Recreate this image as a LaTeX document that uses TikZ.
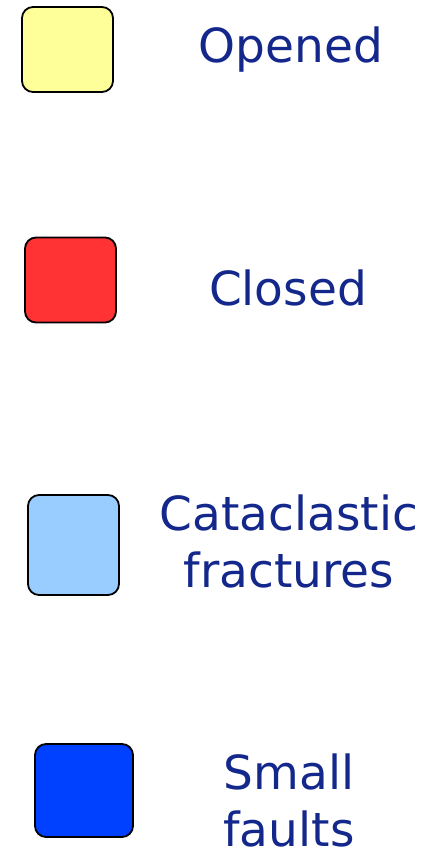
\documentclass[tikz,border=0pt]{standalone}
\usepackage{fontspec}
\setmainfont{DejaVu Sans}
\usetikzlibrary{positioning}
\definecolor{ink}       {HTML}{14288C}
\definecolor{openedYel} {HTML}{FFFF99}
\definecolor{closedRed} {HTML}{FF3333}
\definecolor{catacBlue} {HTML}{99CCFF}
\definecolor{faultBlue} {HTML}{0040FF}
\begin{document}
\begin{tikzpicture}[
  x=1pt, y=-1pt,
  legbox/.style={rectangle, rounded corners=11pt, draw=black, line width=1.8pt,
                 inner sep=0pt, minimum width=91pt, minimum height=85pt},
  leglabel/.style={font=\fontsize{47}{57}\selectfont, text=ink, align=center,
                   anchor=base, inner sep=0pt}
]
\useasboundingbox (0,0) rectangle (441,850);
% legend boxes
\node[legbox, fill=openedYel] (boxOpen) at (67.5,49.5) {};
\node[legbox, fill=closedRed] (boxClosed) at (70.5,280) {};
\node[legbox, fill=catacBlue, minimum height=100pt] (boxCatac) at (73.5,545) {};
\node[legbox, fill=faultBlue, minimum width=98pt, minimum height=93pt] (boxFault) at (84,790.5) {};
% labels (base = last line)
\node[leglabel] (txtOpen) at (291,63) {Opened};
\node[leglabel] (txtClosed) at (288,305) {Closed};
\node[leglabel] (txtCatac) at (289,587) {Cataclastic\\fractures};
\node[leglabel] (txtFault) at (289,846) {Small\\faults};
\end{tikzpicture}
\end{document}
